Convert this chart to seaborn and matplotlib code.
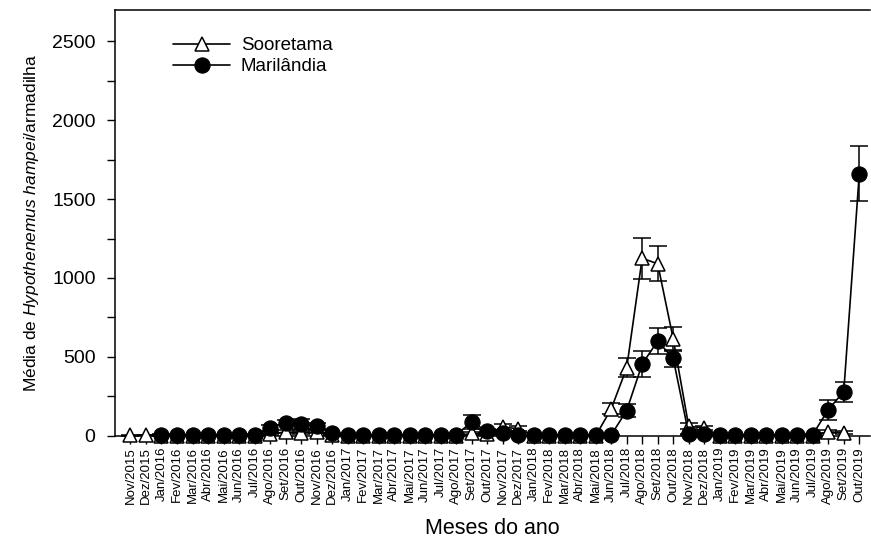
import numpy as np
import pandas as pd
import matplotlib
matplotlib.use("Agg")
import matplotlib.pyplot as plt
import seaborn as sns
from matplotlib.ticker import MultipleLocator

# Month labels (Nov/2015 - Out/2019)
meses = ['Nov/2015', 'Dez/2015',
         'Jan/2016', 'Fev/2016', 'Mar/2016', 'Abr/2016', 'Mai/2016', 'Jun/2016',
         'Jul/2016', 'Ago/2016', 'Set/2016', 'Out/2016', 'Nov/2016', 'Dez/2016',
         'Jan/2017', 'Fev/2017', 'Mar/2017', 'Abr/2017', 'Mai/2017', 'Jun/2017',
         'Jul/2017', 'Ago/2017', 'Set/2017', 'Out/2017', 'Nov/2017', 'Dez/2017',
         'Jan/2018', 'Fev/2018', 'Mar/2018', 'Abr/2018', 'Mai/2018', 'Jun/2018',
         'Jul/2018', 'Ago/2018', 'Set/2018', 'Out/2018', 'Nov/2018', 'Dez/2018',
         'Jan/2019', 'Fev/2019', 'Mar/2019', 'Abr/2019', 'Mai/2019', 'Jun/2019',
         'Jul/2019', 'Ago/2019', 'Set/2019', 'Out/2019']

sooretama = [2, 3,
             0, 0, 0, 0, 0, 0, 0, 10, 25, 20, 25, 5,
             0, 0, 0, 0, 0, 0, 0, 0, 15, 10, 55, 45,
             0, 0, 0, 0, 0, 170, 430, 1125, 1090, 615, 60, 50,
             0, 0, 0, 0, 0, 0, 0, 25, 20, np.nan]
sooretama_se = [1, 1,
                0, 0, 0, 0, 0, 0, 0, 8, 10, 10, 10, 3,
                0, 0, 0, 0, 0, 0, 0, 0, 10, 8, 20, 15,
                0, 0, 0, 0, 0, 35, 60, 130, 110, 75, 20, 15,
                0, 0, 0, 0, 0, 0, 0, 10, 8, np.nan]

marilandia = [np.nan, np.nan,
              8, 6, 4, 6, 5, 4, 6, 50, 82, 75, 63, 15,
              3, 2, 2, 2, 2, 2, 3, 8, 85, 30, 15, 5,
              3, 3, 3, 3, 4, 5, 160, 455, 600, 490, 10, 10,
              3, 2, 2, 2, 2, 3, 8, 165, 280, 1660]
marilandia_se = [np.nan, np.nan,
                 3, 2, 2, 2, 2, 2, 3, 20, 15, 33, 20, 5,
                 1, 1, 1, 1, 1, 1, 1, 3, 45, 12, 6, 2,
                 1, 1, 1, 1, 1, 2, 40, 85, 80, 55, 4, 4,
                 1, 1, 1, 1, 1, 1, 3, 63, 63, 175]

x = np.arange(len(meses))
df_s = pd.DataFrame({'x': x, 'y': sooretama, 'se': sooretama_se}).dropna()
df_m = pd.DataFrame({'x': x, 'y': marilandia, 'se': marilandia_se}).dropna()

sns.set_style("ticks")
plt.rcParams['font.family'] = ['Liberation Sans', 'DejaVu Sans']
plt.rcParams['mathtext.fontset'] = 'custom'
plt.rcParams['mathtext.rm'] = 'Liberation Sans'
plt.rcParams['mathtext.it'] = 'Liberation Sans:italic'
for key in ['text.color', 'axes.labelcolor', 'xtick.color', 'ytick.color']:
    plt.rcParams[key] = 'black'

fig = plt.figure(figsize=(8.71, 5.42), dpi=100)
ax = fig.add_axes([0.132, 0.196, 0.867, 0.786])

# Sooretama (open triangles)
ax.errorbar(df_s['x'], df_s['y'], yerr=df_s['se'], fmt='none', ecolor='black',
            elinewidth=1.1, capsize=6.5, capthick=1.1, zorder=2, clip_on=False)
sns.lineplot(data=df_s, x='x', y='y', ax=ax, color='black', linewidth=1.2,
             marker='^', markersize=10.5, markerfacecolor='white',
             markeredgecolor='black', markeredgewidth=1.1, label='Sooretama',
             zorder=3, clip_on=False)

# Marilândia (filled circles)
ax.errorbar(df_m['x'], df_m['y'], yerr=df_m['se'], fmt='none', ecolor='black',
            elinewidth=1.1, capsize=6.5, capthick=1.1, zorder=4, clip_on=False)
sns.lineplot(data=df_m, x='x', y='y', ax=ax, color='black', linewidth=1.2,
             marker='o', markersize=11, markerfacecolor='black',
             markeredgecolor='black', label='Marilândia', zorder=5, clip_on=False)

ax.set_xlim(-1, 47.7)
ax.set_ylim(0, 2700)
ax.set_xticks(x)
ax.set_xticklabels(meses, rotation=90, fontsize=9.5)
ax.yaxis.set_major_locator(MultipleLocator(500))
ax.yaxis.set_minor_locator(MultipleLocator(250))
ax.tick_params(axis='y', which='major', labelsize=14, length=6, width=1, pad=8)
ax.tick_params(axis='y', which='minor', length=6, width=1)
ax.tick_params(axis='x', length=6, width=1, pad=2)

ax.set_xlabel('Meses do ano', fontsize=15.5, labelpad=10)
ax.set_ylabel('Média de $\\mathit{Hypothenemus\\ hampei}$/armadilha', fontsize=12.5, labelpad=8)

for side in ['left', 'bottom', 'top']:
    ax.spines[side].set_linewidth(1.1)
    ax.spines[side].set_color('black')
ax.spines['right'].set_visible(False)

ax.legend(loc='upper left', bbox_to_anchor=(0.055, 0.975), frameon=False,
          fontsize=13.5, handlelength=3.0, handletextpad=0.6, labelspacing=0.2,
          numpoints=1)

fig.savefig('out.png', dpi=100)
